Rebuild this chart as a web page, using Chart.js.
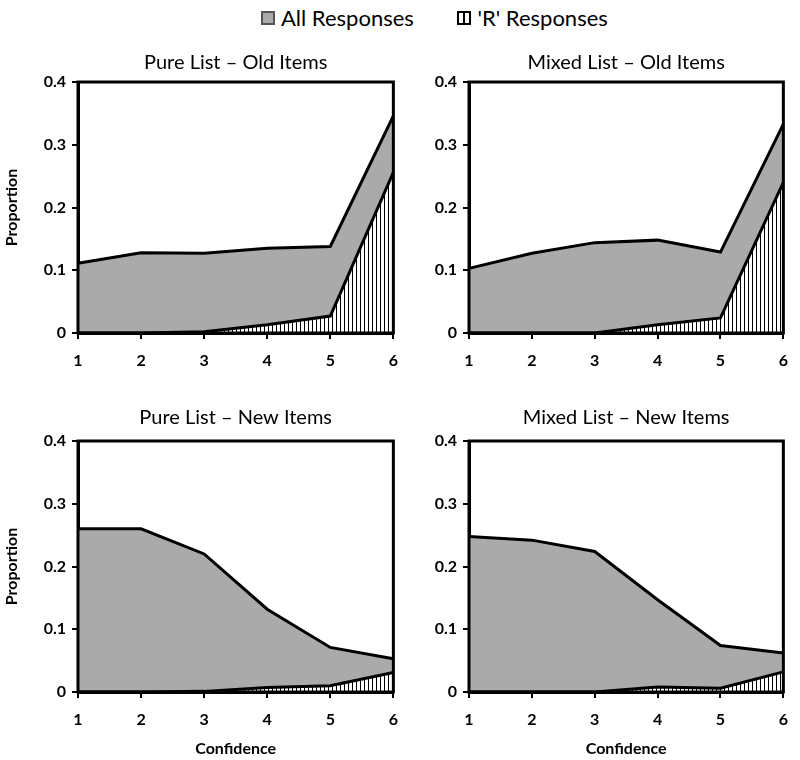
<!DOCTYPE html>
<html>
<head>
<meta charset="utf-8">
<script src="https://cdn.jsdelivr.net/npm/chart.js@4.4.1/dist/chart.umd.min.js"></script>
<style>
    body { margin: 0; background: #fff; font-family: Lato, "Open Sans", sans-serif; }
    #page { position: relative; width: 800px; height: 760px; overflow: hidden; }
    #legend { position: absolute; top: 3px; left: 261px; font-size: 22px; line-height: 28px; color: #000; white-space: nowrap; }
    #legend span.item { display: inline-flex; align-items: center; }
    #legend span.item + span.item { margin-left: 38px; }
    #legend i { display: inline-block; width: 14px; height: 14px; margin-right: 6px; box-sizing: border-box; }
    #legend i.all { background: #aaaaaa; border: 2px solid #555; }
    #legend i.r { border: 2px solid #000; background: repeating-linear-gradient(90deg, #fff 0 4px, #000 4px 6px, #fff 6px 10px); }
    canvas { position: absolute; }
</style>
</head>
<body>
<div id="page">
    <div id="legend">
        <span class="item"><i class="all"></i>All Responses</span>
        <span class="item"><i class="r"></i>'R' Responses</span>
    </div>
    <canvas id="pureOld" width="410" height="330" style="left:0;top:40px"></canvas>
    <canvas id="mixedOld" width="400" height="330" style="left:400px;top:40px"></canvas>
    <canvas id="pureNew" width="410" height="360" style="left:0;top:400px"></canvas>
    <canvas id="mixedNew" width="400" height="360" style="left:400px;top:400px"></canvas>
</div>
<script>
    "use strict";

    // data
    var confidence = ["1", "2", "3", "4", "5", "6"];
    var yTicks = [0, 0.1, 0.2, 0.3, 0.4];

    var pureOldAll = [0.111, 0.128, 0.127, 0.135, 0.138, 0.346];
    var pureOldR = [0, 0, 0.002, 0.013, 0.027, 0.256];
    var mixedOldAll = [0.103, 0.127, 0.144, 0.148, 0.129, 0.333];
    var mixedOldR = [0, 0, 0, 0.013, 0.024, 0.240];
    var pureNewAll = [0.260, 0.260, 0.220, 0.132, 0.071, 0.053];
    var pureNewR = [0, 0, 0.001, 0.007, 0.010, 0.031];
    var mixedNewAll = [0.248, 0.242, 0.224, 0.147, 0.074, 0.062];
    var mixedNewR = [0, 0, 0, 0.008, 0.006, 0.032];

    Chart.defaults.font.family = "Lato, 'Open Sans', sans-serif";
    Chart.defaults.color = "#000";

    // vertical hatching for the 'R' area
    function hatchPattern() {
        var tile = document.createElement("canvas");
        tile.width = 4;
        tile.height = 4;
        var g = tile.getContext("2d");
        g.fillStyle = "#fff";
        g.fillRect(0, 0, 4, 4);
        g.fillStyle = "#000";
        g.fillRect(0, 0, 1, 4);
        return g.createPattern(tile, "repeat");
    }

    var framePlugin = {
        id: "frame",
        afterDatasetsDraw: function (chart) {
            var a = chart.chartArea;
            var ctx = chart.ctx;
            ctx.save();
            ctx.strokeStyle = "#000";
            ctx.lineWidth = 3;
            ctx.strokeRect(a.left, a.top, a.right - a.left, a.bottom - a.top);
            ctx.restore();
        },
    };

    function makePanel(id, title, allData, rData, opts) {
        var ctx = document.getElementById(id).getContext("2d");
        return new Chart(ctx, {
            type: "line",
            data: {
                labels: confidence,
                datasets: [
                    {
                        label: "'R' Responses",
                        data: rData,
                        borderColor: "#000",
                        borderWidth: 3,
                        backgroundColor: hatchPattern(),
                        fill: "origin",
                        tension: 0,
                        pointRadius: 0,
                    },
                    {
                        label: "All Responses",
                        data: allData,
                        borderColor: "#000",
                        borderWidth: 3,
                        backgroundColor: "#aaaaaa",
                        fill: "origin",
                        tension: 0,
                        pointRadius: 0,
                    },
                ],
            },
            plugins: [framePlugin],
            options: {
                responsive: false,
                animation: false,
                layout: {
                    padding: { left: 0, right: opts.padRight, top: 0, bottom: 0 },
                },
                scales: {
                    x: {
                        offset: false,
                        grid: {
                            drawOnChartArea: false,
                            drawTicks: true,
                            tickLength: 6,
                            color: "#000",
                            lineWidth: 2,
                        },
                        border: { display: true, color: "#000", width: 3 },
                        ticks: {
                            font: { size: 16, weight: "bold" },
                            padding: 12,
                            maxRotation: 0,
                        },
                        title: {
                            display: opts.xTitle,
                            text: "Confidence",
                            font: { size: 16, weight: "bold" },
                            padding: { top: 0, bottom: 2 },
                        },
                        afterFit: function (scale) {
                            scale.height = opts.xHeight;
                        },
                    },
                    y: {
                        min: 0,
                        max: 0.4,
                        grid: {
                            drawOnChartArea: false,
                            drawTicks: true,
                            tickLength: 6,
                            color: "#000",
                            lineWidth: 2,
                        },
                        border: { display: true, color: "#000", width: 3 },
                        afterBuildTicks: function (scale) {
                            scale.ticks = yTicks.map(function (v) {
                                return { value: v };
                            });
                        },
                        ticks: {
                            font: { size: 16, weight: "bold" },
                            padding: 6,
                            callback: function (value) {
                                return String(value);
                            },
                        },
                        title: {
                            display: opts.yTitle,
                            text: "Proportion",
                            font: { size: 16, weight: "bold" },
                            padding: { top: 2, bottom: 0 },
                        },
                        afterFit: function (scale) {
                            scale.width = opts.yWidth;
                        },
                    },
                },
                plugins: {
                    legend: { display: false },
                    tooltip: { enabled: false },
                    title: {
                        display: true,
                        fullSize: false,
                        text: title,
                        font: { size: 20, weight: "normal" },
                        padding: { top: opts.titleTop, bottom: opts.titleBottom },
                    },
                },
            },
        });
    }

    makePanel("pureOld", "Pure List \u2013 Old Items", pureOldAll, pureOldR,
        { padRight: 12, xHeight: 37, yWidth: 78, xTitle: false, yTitle: true, titleTop: 11, titleBottom: 7 });
    makePanel("mixedOld", "Mixed List \u2013 Old Items", mixedOldAll, mixedOldR,
        { padRight: 10, xHeight: 37, yWidth: 69, xTitle: false, yTitle: false, titleTop: 11, titleBottom: 7 });
    makePanel("pureNew", "Pure List \u2013 New Items", pureNewAll, pureNewR,
        { padRight: 12, xHeight: 68, yWidth: 78, xTitle: true, yTitle: true, titleTop: 6, titleBottom: 11 });
    makePanel("mixedNew", "Mixed List \u2013 New Items", mixedNewAll, mixedNewR,
        { padRight: 10, xHeight: 68, yWidth: 69, xTitle: true, yTitle: false, titleTop: 6, titleBottom: 11 });
</script>
</body>
</html>
